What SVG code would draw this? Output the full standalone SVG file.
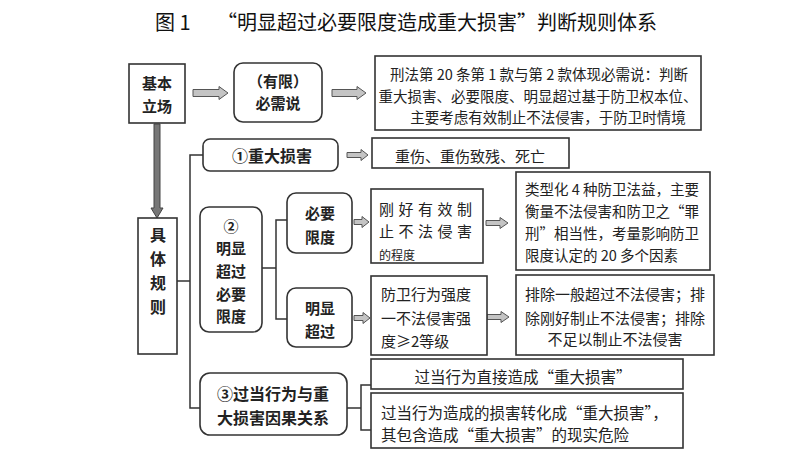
<svg xmlns="http://www.w3.org/2000/svg" width="800" height="466" viewBox="0 0 800 466">
<style>
  text { font-family: "Noto Sans CJK SC", "Noto Sans", sans-serif; fill: #222; dominant-baseline: central; }
  .title { font-size: 20px; fill: #111; }
  .b { font-weight: bold; font-size: 15px; text-anchor: middle; }
  .r { font-size: 14.5px; }
  .c { text-anchor: middle; }
  .box { fill: #fff; stroke: #333; stroke-width: 1.6; }
  .rbox { fill: #fff; stroke: #333; stroke-width: 1.6; }
  .br { fill: none; stroke: #333; stroke-width: 1.5; }
  .arr { fill: #c4c4c4; stroke: #555; stroke-width: 1; stroke-linejoin: miter; }
  .varr { fill: #777; stroke: #444; stroke-width: 1; }
</style>
<rect width="800" height="466" fill="#fff"/>
<text class="title" x="155" y="21">图 1 <tspan dx="22">“明显超过必要限度造成重大损害”判断规则体系</tspan></text>

<g id="connectors">
  <polygon class="arr" points="193,89.5 219,89.5 219,86.5 228,93 219,99.5 219,96.5 193,96.5"/>
  <polygon class="arr" points="332,89.5 357,89.5 357,86.5 366,93 357,99.5 357,96.5 332,96.5"/>
  <polygon class="varr" points="154,124 154,208 151,208 157,218 163,208 160,208 160,124"/>
  <polygon class="arr" points="347,152.5 361,152.5 361,149.5 368,155 361,160.5 361,157.5 347,157.5"/>
  <polygon class="arr" points="354,219.5 362,219.5 362,216.5 369,222 362,227.5 362,224.5 354,224.5"/>
  <polygon class="arr" points="354,315.5 363,315.5 363,312.5 370,318 363,323.5 363,320.5 354,320.5"/>
  <polygon class="arr" points="486,220.5 500,220.5 500,217.5 508,223 500,228.5 500,225.5 486,225.5"/>
  <polygon class="arr" points="487,314.5 501,314.5 501,311.5 509,317 501,322.5 501,319.5 487,319.5"/>
  <path class="br" d="M203,155 H190 V408 H200 M177,281 H190"/>
  <path class="br" d="M287,220 H276 V319 H287 M262,268 H276"/>
  <path class="br" d="M371,385 H361 V430 H371 M347,408 H361"/>
</g>

<g id="n-jiben">
  <rect class="box" x="129" y="64" width="56" height="59"/>
  <text class="b" x="157" y="82">基本</text>
  <text class="b" x="157" y="105">立场</text>
</g>
<g id="n-bixu">
  <rect class="rbox" x="234" y="63" width="88" height="59" rx="9"/>
  <text class="b" x="278" y="80">（有限）</text>
  <text class="b" x="278" y="102">必需说</text>
</g>
<g id="n-xingfa">
  <rect class="box" x="375" y="56" width="326" height="74"/>
  <text class="r c" x="539" y="73">刑法第 20 条第 1 款与第 2 款体现必需说：判断</text>
  <text class="r c" x="538" y="95">重大损害、必要限度、明显超过基于防卫权本位、</text>
  <text class="r c" x="548" y="116">主要考虑有效制止不法侵害，于防卫时情境</text>
</g>
<g id="n-juti">
  <rect class="box" x="138" y="218" width="39" height="136"/>
  <text class="b" x="158" y="234" style="font-size:16px">具</text>
  <text class="b" x="158" y="258" style="font-size:16px">体</text>
  <text class="b" x="158" y="282" style="font-size:16px">规</text>
  <text class="b" x="158" y="306" style="font-size:16px">则</text>
</g>
<g id="n-zhongda">
  <rect class="rbox" x="203" y="139" width="135" height="32" rx="7"/>
  <text class="b" x="272" y="155" style="font-size:16px">①重大损害</text>
</g>
<g id="n-zhongshang">
  <rect class="box" x="372" y="138" width="197" height="30"/>
  <text class="c" x="470" y="155" style="font-size:15px">重伤、重伤致残、死亡</text>
</g>
<g id="n-mingxian">
  <rect class="rbox" x="200" y="207" width="62" height="125" rx="9"/>
  <text class="b" x="231" y="225">②</text>
  <text class="b" x="231" y="247">明显</text>
  <text class="b" x="231" y="270">超过</text>
  <text class="b" x="231" y="293">必要</text>
  <text class="b" x="231" y="315">限度</text>
</g>
<g id="n-biyao">
  <rect class="rbox" x="287" y="193" width="65" height="60" rx="9"/>
  <text class="b" x="320" y="212">必要</text>
  <text class="b" x="320" y="236">限度</text>
</g>
<g id="n-chaoguo">
  <rect class="rbox" x="287" y="288" width="65" height="59" rx="9"/>
  <text class="b" x="320" y="307">明显</text>
  <text class="b" x="320" y="330">超过</text>
</g>
<g id="n-ganghao">
  <rect class="box" x="371" y="189" width="112" height="74"/>
  <text x="379" y="208" style="font-size:15px;letter-spacing:4.5px">刚好有效制</text>
  <text x="379" y="230" style="font-size:15px;letter-spacing:4.5px">止不法侵害</text>
  <text x="379" y="254" style="font-size:12px">的程度</text>
</g>
<g id="n-qiangdu">
  <rect class="box" x="371" y="276" width="116" height="79"/>
  <text x="381" y="293" style="font-size:15px">防卫行为强度</text>
  <text x="381" y="317" style="font-size:15px">一不法侵害强</text>
  <text x="381" y="340" style="font-size:15px">度≥2等级</text>
</g>
<g id="n-leixing">
  <rect class="box" x="516" y="172" width="194" height="98"/>
  <text x="525" y="188" style="font-size:14.5px">类型化 4 种防卫法益，主要</text>
  <text x="525" y="210" style="font-size:14.5px">衡量不法侵害和防卫之“罪</text>
  <text x="525" y="232" style="font-size:14.5px">刑”相当性，考量影响防卫</text>
  <text x="525" y="254" style="font-size:14.5px">限度认定的 20 多个因素</text>
</g>
<g id="n-paichu">
  <rect class="box" x="516" y="275" width="198" height="80"/>
  <text class="c" x="615" y="293" style="font-size:15px">排除一般超过不法侵害；排</text>
  <text class="c" x="615" y="317" style="font-size:15px">除刚好制止不法侵害；排除</text>
  <text class="c" x="615" y="338" style="font-size:15px">不足以制止不法侵害</text>
</g>
<g id="n-yinguo">
  <rect class="rbox" x="200" y="373" width="147" height="62" rx="10"/>
  <text class="b" x="273" y="393" style="font-size:16px">③过当行为与重</text>
  <text class="b" x="273" y="417" style="font-size:16px">大损害因果关系</text>
</g>
<g id="n-zhijie">
  <rect class="box" x="371" y="359" width="312" height="30"/>
  <text class="c" x="523" y="376" style="font-size:15.5px">过当行为直接造成“重大损害”</text>
</g>
<g id="n-zhuanhua">
  <rect class="box" x="371" y="393" width="312" height="55"/>
  <text x="381" y="412" style="font-size:15.5px">过当行为造成的损害转化成“重大损害”，</text>
  <text x="381" y="434" style="font-size:15.5px">其包含造成“重大损害”的现实危险</text>
</g>
</svg>
